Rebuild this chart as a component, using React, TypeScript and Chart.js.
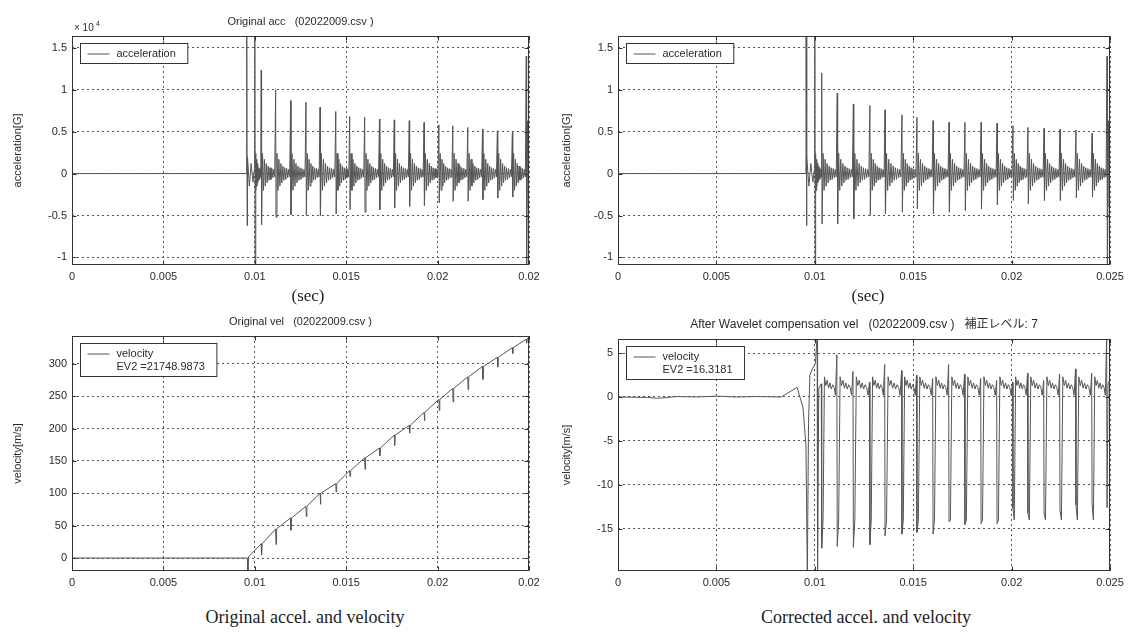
import React, { useEffect, useRef } from 'react';
import { Chart, registerables } from 'chart.js';

Chart.register(...registerables);

// ---------------- data ----------------
const X_TICKS = [0, 0.005, 0.01, 0.015, 0.02, 0.025];
const X_LABELS_ORIG = ['0', '0.005', '0.01', '0.015', '0.02', '0.02'];
const X_LABELS_CORR = ['0', '0.005', '0.01', '0.015', '0.02', '0.025'];
const ACC_TICKS = [-1, -0.5, 0, 0.5, 1, 1.5];
const VEL_ORIG_TICKS = [0, 50, 100, 150, 200, 250, 300];
const VEL_CORR_TICKS = [-15, -10, -5, 0, 5];

// impact times (s) after the initial onset
const SPIKE_T = [0.01035, 0.01114, 0.01196, 0.0128, 0.01357, 0.01443, 0.01519, 0.01601, 0.01682, 0.01763,
  0.01845, 0.01926, 0.02007, 0.02083, 0.02165, 0.02246, 0.02327, 0.02409, 0.02485];

// acceleration (x10^4 G)
const ACC_ONSET_T = [0, 0.00955, 0.00956, 0.00958, 0.0096, 0.0097, 0.0098, 0.0099, 0.00998, 0.01, 0.01002];
const ACC_ONSET_V = [0, 0, 1.8, -0.62, 0.2, -0.15, 0.12, -0.1, 0.05, 1.8, -1.25];
const ACC_ORIG_PEAK = [1.23, 1.0, 0.87, 0.85, 0.79, 0.74, 0.68, 0.67, 0.65, 0.64, 0.63, 0.61, 0.58, 0.57, 0.55, 0.53, 0.51, 0.49, 1.4];
const ACC_ORIG_TROUGH = [-0.61, -0.52, -0.49, -0.5, -0.5, -0.48, -0.43, -0.46, -0.43, -0.41, -0.39, -0.38, -0.35, -0.33, -0.33, -0.31, -0.29, -0.28, -1.25];
const ACC_CORR_PEAK = [1.2, 0.96, 0.83, 0.81, 0.76, 0.7, 0.67, 0.63, 0.61, 0.61, 0.61, 0.6, 0.57, 0.55, 0.54, 0.53, 0.52, 0.48, 1.4];
const ACC_CORR_TROUGH = [-0.6, -0.6, -0.54, -0.5, -0.48, -0.46, -0.42, -0.48, -0.46, -0.44, -0.42, -0.37, -0.32, -0.36, -0.32, -0.32, -0.29, -0.28, -1.25];
const ACC_RING = [0.24, -0.2, 0.17, -0.15, 0.12, -0.11, 0.09, -0.08, 0.07, -0.07, 0.06, -0.05, 0.05, -0.04];
const ACC_END_T = [0.02492, 0.02496, 0.025];
const ACC_END_V = [0.63, -0.4, 0.1];

// original velocity (m/s)
const VEL_ORIG_PRE_T = [0, 0.0096, 0.00962, 0.00966];
const VEL_ORIG_PRE_V = [0, 0, -20, 2];
const VEL_ORIG_LINE = [22, 45, 62, 80, 100, 115, 135, 155, 170, 190, 205, 225, 245, 262, 280, 296, 310, 325, 338];
const VEL_ORIG_DIP = [5, 21, 43, 64, 83, 102, 126, 137, 158, 174, 193, 212, 228, 241, 260, 276, 295, 316, 332];
const VEL_ORIG_END_T = [0.025];
const VEL_ORIG_END_V = [342];

// corrected velocity (m/s)
const VEL_CORR_PRE_T = [0, 0.0015, 0.002, 0.003, 0.004, 0.005, 0.006, 0.007, 0.0083, 0.0091, 0.0094, 0.00955,
  0.00962, 0.00968, 0.00975, 0.0099, 0.01003, 0.01012, 0.01014, 0.0102];
const VEL_CORR_PRE_V = [0, -0.05, -0.15, 0.05, 0, 0.1, 0, 0.05, 0, 1.1, -1.2, -5.5, -20.5, -3, 2.5, 3.3, 3.8, 7, -20.5, 1.0];
const VEL_CORR_PEAK = [1.5, 4.8, 2.9, 1.7, 3.7, 3.0, 2.5, 2.1, 3.7, 2.6, 2.1, 1.9, 1.7, 2.7, 1.9, 2.6, 3.2, 2.7, 6.9];
const VEL_CORR_DIP = [-17.2, -17.0, -17.1, -16.8, -15.8, -15.6, -15.4, -15.6, -14.2, -14.5, -14.4, -14.4, -12.7, -13.2, -13.2, -12.9, -12.3, -12.1, -12.6];
const VEL_CORR_RIPPLE = [-14.0, 2.3, 1.3, 1.9, 1.0, 1.6, 0.9, 1.4, 1.1, 0.2];
const VEL_CORR_END_T = [0.0249, 0.025];
const VEL_CORR_END_V = [1.5, 2.0];

// ---------------- styles ----------------
const SANS = '"Liberation Sans", Arial, "Noto Sans CJK JP", sans-serif';
const SERIF = '"Liberation Serif", "Times New Roman", serif';
const TEXT = '#2a2a2a';
const GRID = '#555555';
const LINE = '#555555';
const FRAME = '#333333';

type Pt = { x: number; y: number };
const pts = (ts: number[], vs: number[]): Pt[] => ts.map((t, i) => ({ x: t, y: vs[i] }));

function spread(out: Pt[], vals: number[], from: number, to: number) {
  const n = vals.length;
  vals.forEach((v, k) => out.push({ x: from + ((to - from) * (k + 1)) / (n + 1), y: v }));
}

function accSeries(peaks: number[], troughs: number[]): Pt[] {
  const out = pts(ACC_ONSET_T, ACC_ONSET_V);
  spread(out, ACC_RING, ACC_ONSET_T[ACC_ONSET_T.length - 1], SPIKE_T[0]);
  SPIKE_T.forEach((t, i) => {
    out.push({ x: t, y: peaks[i] });
    out.push({ x: t + 0.00002, y: troughs[i] });
    if (i + 1 < SPIKE_T.length) spread(out, ACC_RING, t + 0.00002, SPIKE_T[i + 1]);
  });
  out.push(...pts(ACC_END_T, ACC_END_V));
  return out;
}

function velOrigSeries(): Pt[] {
  const out = pts(VEL_ORIG_PRE_T, VEL_ORIG_PRE_V);
  SPIKE_T.forEach((t, i) => {
    out.push({ x: t, y: VEL_ORIG_LINE[i] });
    out.push({ x: t + 0.00002, y: VEL_ORIG_DIP[i] });
    out.push({ x: t + 0.00005, y: VEL_ORIG_LINE[i] });
  });
  out.push(...pts(VEL_ORIG_END_T, VEL_ORIG_END_V));
  return out;
}

function velCorrSeries(): Pt[] {
  const out = pts(VEL_CORR_PRE_T, VEL_CORR_PRE_V);
  SPIKE_T.forEach((t, i) => {
    out.push({ x: t - 0.00002, y: VEL_CORR_PEAK[i] });
    out.push({ x: t, y: VEL_CORR_DIP[i] });
    if (i + 1 < SPIKE_T.length) spread(out, VEL_CORR_RIPPLE, t, SPIKE_T[i + 1] - 0.00002);
  });
  out.push(...pts(VEL_CORR_END_T, VEL_CORR_END_V));
  return out;
}

type Spec = {
  data: Pt[];
  yMin: number;
  yMax: number;
  yTicks: number[];
  xLabels: string[];
  yTitle: string;
  yTitlePad: number;
  padding: { top: number; right: number; bottom: number; left: number };
  yWidth: number;
  xHeight: number;
  title?: string;
  titleSize?: number;
  legend: string[];
  exponent?: boolean;
};

function framePlugin(p: Spec) {
  return {
    id: 'matlabFrame',
    afterDraw(chart: any) {
      const { ctx, chartArea: ca, scales } = chart;
      const L = Math.round(ca.left) + 0.5;
      const R = Math.round(ca.right) - 0.5;
      const T = Math.round(ca.top) + 0.5;
      const B = Math.round(ca.bottom) - 0.5;
      ctx.save();
      ctx.strokeStyle = FRAME;
      ctx.lineWidth = 1;
      ctx.setLineDash([]);
      ctx.strokeRect(L, T, R - L, B - T);
      ctx.beginPath();
      scales.x.ticks.forEach((t: any) => {
        const px = Math.round(scales.x.getPixelForValue(t.value)) + 0.5;
        ctx.moveTo(px, B); ctx.lineTo(px, B - 4);
        ctx.moveTo(px, T); ctx.lineTo(px, T + 4);
      });
      scales.y.ticks.forEach((t: any) => {
        const py = Math.round(scales.y.getPixelForValue(t.value)) + 0.5;
        ctx.moveTo(L, py); ctx.lineTo(L + 4, py);
        ctx.moveTo(R, py); ctx.lineTo(R - 4, py);
      });
      ctx.stroke();

      ctx.fillStyle = TEXT;
      if (p.title) {
        ctx.font = `${p.titleSize || 11}px ${SANS}`;
        ctx.textAlign = 'center';
        ctx.textBaseline = 'middle';
        ctx.fillText(p.title, (ca.left + ca.right) / 2, ca.top - 14);
      }
      if (p.exponent) {
        ctx.font = `10px ${SANS}`;
        ctx.textAlign = 'left';
        ctx.textBaseline = 'middle';
        ctx.fillText('× 10', ca.left + 2, ca.top - 8);
        ctx.font = `7px ${SANS}`;
        ctx.fillText('4', ca.left + 24, ca.top - 12);
      }
      // legend
      ctx.font = `11px ${SANS}`;
      const lineH = 13;
      const textX = 36;
      const w = textX + Math.max(...p.legend.map((s) => ctx.measureText(s).width)) + 12;
      const h = 7 + lineH * p.legend.length;
      const bx = Math.round(ca.left) + 8.5;
      const by = Math.round(ca.top) + 7.5;
      ctx.fillStyle = '#ffffff';
      ctx.fillRect(bx, by, w, h);
      ctx.strokeStyle = FRAME;
      ctx.strokeRect(bx, by, w, h);
      ctx.strokeStyle = LINE;
      ctx.beginPath();
      ctx.moveTo(bx + 7, by + 4 + lineH / 2);
      ctx.lineTo(bx + 29, by + 4 + lineH / 2);
      ctx.stroke();
      ctx.fillStyle = TEXT;
      ctx.textAlign = 'left';
      ctx.textBaseline = 'middle';
      p.legend.forEach((s, i) => ctx.fillText(s, bx + textX, by + 4 + lineH / 2 + i * lineH));
      ctx.restore();
    },
  };
}

function makeConfig(p: Spec): any {
  const tickFont = { family: SANS, size: 11 };
  return {
    type: 'line',
    data: {
      datasets: [
        { data: p.data, borderColor: LINE, borderWidth: 1, pointRadius: 0, tension: 0, fill: false },
      ],
    },
    options: {
      animation: false,
      responsive: false,
      events: [],
      parsing: false,
      layout: { padding: p.padding },
      plugins: { legend: { display: false }, tooltip: { enabled: false }, title: { display: false } },
      scales: {
        x: {
          type: 'linear',
          min: 0,
          max: 0.025,
          afterBuildTicks: (s: any) => { s.ticks = X_TICKS.map((v) => ({ value: v })); },
          afterFit: (s: any) => { s.height = p.xHeight; },
          ticks: {
            callback: (_v: any, i: number) => p.xLabels[i],
            autoSkip: false, maxRotation: 0, font: tickFont, color: TEXT, padding: 5,
          },
          grid: { color: GRID, lineWidth: 1, drawTicks: false },
          border: { display: false, dash: [2, 3] },
        },
        y: {
          type: 'linear',
          min: p.yMin,
          max: p.yMax,
          afterBuildTicks: (s: any) => { s.ticks = p.yTicks.map((v) => ({ value: v })); },
          afterFit: (s: any) => { s.width = p.yWidth; },
          ticks: { callback: (v: any) => String(v), font: tickFont, color: TEXT, padding: 5 },
          grid: { color: GRID, lineWidth: 1, drawTicks: false },
          border: { display: false, dash: [2, 3] },
          title: {
            display: true, text: p.yTitle, color: TEXT, font: { family: SANS, size: 11 },
            padding: { top: p.yTitlePad, bottom: 0 },
          },
        },
      },
    },
    plugins: [framePlugin(p)],
  };
}

function Panel({ left, top, w, h, spec }: { left: number; top: number; w: number; h: number; spec: () => Spec }) {
  const ref = useRef<HTMLCanvasElement>(null);
  useEffect(() => {
    const chart = new Chart(ref.current as HTMLCanvasElement, makeConfig(spec()));
    return () => chart.destroy();
  }, []);
  return (
    <canvas ref={ref} width={w} height={h} style={{ position: 'absolute', left, top, width: w, height: h }} />
  );
}

function Caption({ x, y, size, children }: { x: number; y: number; size: number; children: React.ReactNode }) {
  return (
    <div
      style={{
        position: 'absolute', left: x, top: y, transform: 'translate(-50%, -50%)', whiteSpace: 'nowrap',
        fontFamily: SERIF, fontSize: size, color: '#222',
      }}
    >
      {children}
    </div>
  );
}

export default function App() {
  return (
    <div style={{ position: 'absolute', left: 0, top: 0, width: 1131, height: 635, background: '#fff', overflow: 'hidden' }}>
      <Panel left={0} top={0} w={560} h={300} spec={() => ({
        data: accSeries(ACC_ORIG_PEAK, ACC_ORIG_TROUGH), yMin: -1.09, yMax: 1.64, yTicks: ACC_TICKS,
        xLabels: X_LABELS_ORIG, yTitle: 'acceleration[G]', yTitlePad: 11,
        padding: { top: 36, right: 31, bottom: 0, left: 0 }, yWidth: 72, xHeight: 35,
        title: 'Original acc   (02022009.csv )', titleSize: 11, legend: ['acceleration'], exponent: true,
      })} />
      <Panel left={560} top={0} w={571} h={300} spec={() => ({
        data: accSeries(ACC_CORR_PEAK, ACC_CORR_TROUGH), yMin: -1.09, yMax: 1.64, yTicks: ACC_TICKS,
        xLabels: X_LABELS_CORR, yTitle: 'acceleration[G]', yTitlePad: 0,
        padding: { top: 36, right: 21, bottom: 0, left: 0 }, yWidth: 58, xHeight: 35,
        legend: ['acceleration'],
      })} />
      <Panel left={0} top={300} w={560} h={300} spec={() => ({
        data: velOrigSeries(), yMin: -20, yMax: 343, yTicks: VEL_ORIG_TICKS,
        xLabels: X_LABELS_ORIG, yTitle: 'velocity[m/s]', yTitlePad: 11,
        padding: { top: 36, right: 31, bottom: 0, left: 0 }, yWidth: 72, xHeight: 29,
        title: 'Original vel   (02022009.csv )', titleSize: 11, legend: ['velocity', 'EV2 =21748.9873'],
      })} />
      <Panel left={560} top={300} w={571} h={300} spec={() => ({
        data: velCorrSeries(), yMin: -19.8, yMax: 6.6, yTicks: VEL_CORR_TICKS,
        xLabels: X_LABELS_CORR, yTitle: 'velocity[m/s]', yTitlePad: 0,
        padding: { top: 39, right: 21, bottom: 0, left: 0 }, yWidth: 58, xHeight: 29,
        title: 'After Wavelet compensation vel   (02022009.csv )   補正レベル: 7', titleSize: 12,
        legend: ['velocity', 'EV2 =16.3181'],
      })} />
      <Caption x={308} y={296} size={17}>(sec)</Caption>
      <Caption x={868} y={296} size={17}>(sec)</Caption>
      <Caption x={305} y={617} size={18}>Original accel. and velocity</Caption>
      <Caption x={866} y={617} size={18}>Corrected accel. and velocity</Caption>
    </div>
  );
}
